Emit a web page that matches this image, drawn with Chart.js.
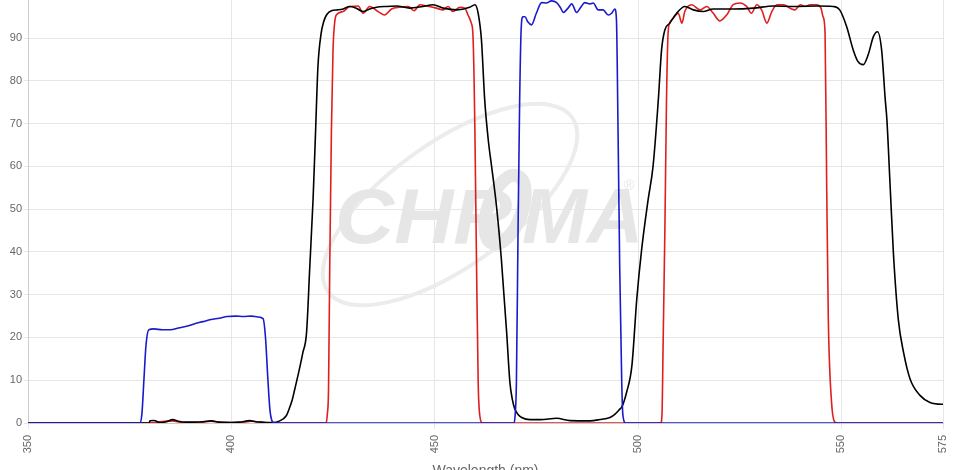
<!DOCTYPE html>
<html>
<head>
<meta charset="utf-8">
<script src="https://cdn.jsdelivr.net/npm/chart.js@4/dist/chart.umd.min.js"></script>
<style>
  html, body { margin: 0; padding: 0; background: #fff; overflow: hidden; }
  #wrap { position: absolute; left: 0; top: 0; width: 957px; height: 489px; }
</style>
</head>
<body>
<div id="wrap"><canvas id="myChart" width="957" height="489"></canvas></div>
<script>
// tick labels
var xTicks = [350, 400, 450, 500, 550, 575];
var yTicks = [0, 10, 20, 30, 40, 50, 60, 70, 80, 90];

// blue filter (two bands)
var blueWl = [350, 377.5, 378, 378.5, 379, 379.7, 381, 383, 385, 387, 389, 391, 393, 395, 397, 399, 401, 403, 405, 406.5, 407.8, 408.4, 409, 409.5, 410, 410.6,
  469.5, 469.8, 470.1, 470.5, 470.9, 471.3, 471.7, 472.2, 472.9, 473.8, 475, 476.3, 477.5, 478.7, 480, 481, 481.6, 482.8, 483.7, 484.9, 486, 486.9, 488.2, 489,
  490.2, 491.4, 492.7, 493.5, 494.3, 494.7, 495.1, 495.5, 496, 496.3, 497, 575];
var blueT = [0, 0, 2, 10, 18, 21.8, 22, 21.8, 21.8, 22.2, 22.6, 23.2, 23.7, 24.2, 24.5, 24.9, 25, 24.9, 25, 24.8, 24.4, 20, 10, 3, 0.5, 0,
  0, 2, 9.5, 44.5, 75.6, 92.7, 95, 95, 93.8, 93.1, 95.8, 98.3, 98.2, 98.7, 98.3, 97, 96, 97, 98, 96, 97.3, 98.3, 98, 98.2,
  96.6, 96.6, 95.4, 95.8, 96.8, 94.3, 67.8, 36.7, 9.5, 1.7, 0, 0];

// red filter (two bands)
var redWl = [350, 380, 382, 385.5, 388, 392, 395, 398, 402, 405, 408, 410,
  423.3, 423.6, 423.9, 424.2, 424.6, 425, 425.3, 425.8, 427.5, 429.1, 431.2, 432.4, 434, 436.1, 437.7, 439.4, 441.4, 443.5, 444.9, 446.4, 448, 450.4,
  452.1, 453.3, 454.5, 456.2, 457.4, 458.2, 459, 459.4, 459.7, 459.9, 460.3, 460.7, 461.1, 461.8,
  505.6, 505.9, 506.2, 506.6, 507, 507.4, 507.8, 508.7, 509.9, 510.8, 511.5, 513.2, 515.3, 516.9, 518.5, 520.1, 521.8, 523.4, 525.1, 526.7, 527.9,
  529.2, 530.4, 531.7, 532.9, 534.2, 535.8, 537.4, 538.6, 539.9, 541.1, 542.3, 543.9, 545, 545.5, 546, 546.4, 546.8, 547.6, 548.4, 549, 575];
var redT = [0, 0, 0.2, 0.5, 0.1, 0.1, 0.4, 0.1, 0.1, 0.4, 0.1, 0,
  0, 2, 8, 36.7, 67.8, 87, 92.5, 95.4, 96.2, 97.4, 97.5, 95.8, 97.4, 96.2, 95.4, 96.8, 97.2, 97.4, 96.4, 97.8, 97.5, 97,
  96.6, 97.4, 96.2, 97.2, 97, 95.4, 93.5, 91, 80, 67.8, 36.7, 9.5, 1.7, 0,
  0, 2, 20, 44.5, 75, 91.2, 93.5, 94.7, 95.8, 93.5, 96.2, 97.8, 96.6, 97.4, 95.8, 94, 95.4, 97.8, 98.2, 97.4, 95.8,
  97.8, 96.6, 93.5, 96.2, 97.8, 97.8, 97, 96.6, 97.8, 97.4, 97.8, 97.8, 97, 95, 91.2, 55.4, 24.3, 4.8, 0.2, 0, 0];

// black filter
var blackWl = [350, 379.8, 380, 381, 382.4, 384, 385.6, 387, 389, 391, 393, 395, 397, 400, 402, 404.5, 406, 407.5, 409, 410.1, 411.9, 413.5, 414.3, 415, 415.6,
  416.6, 417.6, 418.5, 419.3, 420.1, 420.7, 421.3, 422.1, 422.7, 423.4, 424.6, 426.2, 427.5, 429.1, 430.7, 432.4, 434, 435.7, 438.1, 440.6, 443.9, 447.1,
  449.6, 452.1, 455.4, 458.6, 459.9, 460.7, 461.5, 462.3, 463.2, 464, 465.2, 466.4, 467.7, 468.5, 469.1, 469.7, 470.5, 471.4, 473.4, 476, 480, 483.3,
  488.2, 490.6, 493.1, 493.9, 495.6, 496, 497.2, 498.5, 499.7, 500.9, 502.5, 503.7, 505, 505.8, 506.6, 507.8, 509.5, 511.5, 513.6, 516, 518.5, 523.4,
  528.4, 533.3, 538.2, 544, 548, 549.6, 551.3, 552.9, 554.1, 555.4, 556.6, 557.9, 558.9, 559.9, 560.8, 561.2, 562, 562.8, 564, 565.3, 566.9, 569.4,
  571.8, 574.7, 575];
var blackT = [0, 0, 0.5, 0.6, 0.1, 0.3, 0.8, 0.4, 0.2, 0.2, 0.3, 0.5, 0.2, 0.1, 0.2, 0.55, 0.3, 0.2, 0.1, 0.1, 0.5, 1.7, 3.5, 5.5, 7.9,
  12, 16.5, 21.2, 36.7, 52.3, 67.8, 83.4, 91.2, 93.8, 95.4, 96.4, 96.6, 96.8, 97.4, 97, 96.2, 96.8, 97.2, 97.4, 97.5, 97, 97.4,
  97.8, 97, 96.6, 97.2, 97.8, 95.8, 89.6, 75.6, 66, 60, 50.7, 38.3, 21.2, 9.5, 5.5, 3.3, 2, 1.3, 0.8, 0.8, 1.1, 0.55,
  0.5, 0.8, 1.3, 1.7, 3.3, 3.7, 7.2, 13.4, 29, 40.6, 52.3, 60, 75.6, 87.3, 91.9, 93.5, 95.8, 97.4, 96.6, 96.2, 96.8, 96.8,
  97, 97.5, 97.4, 97.5, 97.4, 96.6, 92.7, 87.3, 84.5, 83.8, 86.1, 90.4, 91.5, 87.3, 75.6, 71, 55.4, 39.8, 24.3, 16.5, 10.3, 6.4,
  4.8, 4.4, 4.4];

function pts(xs, ys) {
  return xs.map(function (x, i) { return { x: x, y: ys[i] }; });
}

// faint logo behind the curves
var watermark = {
  id: 'watermark',
  beforeDatasetsDraw: function (chart) {
    var c = chart.ctx;
    var top = chart.chartArea.top;
    c.save();
    c.translate(0, top);
    c.strokeStyle = '#ececec';
    c.lineWidth = 4;
    c.beginPath();
    c.ellipse(450, 205, 150, 62, -0.62, 0, Math.PI * 2);
    c.stroke();
    c.fillStyle = '#e6e6e6';
    c.font = 'italic bold 78px "Liberation Sans"';
    c.textBaseline = 'alphabetic';
    c.save();
    c.translate(335, 243);
    c.scale(1.05, 1);
    c.fillText('CHR', 0, 0);
    c.restore();
    c.fillText('MA', 522, 243);
    c.lineWidth = 13;
    c.strokeStyle = '#e6e6e6';
    c.beginPath();
    c.ellipse(505, 210, 17, 36, 0.35, 0, Math.PI * 2);
    c.stroke();
    c.font = '14px "Liberation Sans"';
    c.fillText('®', 624, 190);
    c.restore();
  }
};

var ctx = document.getElementById('myChart').getContext('2d');
var chart = new Chart(ctx, {
  type: 'line',
  data: {
    datasets: [{
      label: 'Blue',
      data: pts(blueWl, blueT),
      borderColor: '#1a1acc',
      borderWidth: 1.6
    }, {
      label: 'Black',
      data: pts(blackWl, blackT),
      borderColor: '#000000',
      borderWidth: 1.6
    }, {
      label: 'Red',
      data: pts(redWl, redT),
      borderColor: '#e01e1e',
      borderWidth: 1.6
    }]
  },
  options: {
    responsive: false,
    animation: false,
    cubicInterpolationMode: 'monotone',
    elements: { point: { radius: 0 } },
    layout: { padding: { left: 0, right: 14, top: 0, bottom: 0 } },
    plugins: { legend: { display: false }, tooltip: { enabled: false } },
    scales: {
      x: {
        type: 'linear',
        min: 350,
        max: 575,
        afterBuildTicks: function (axis) { axis.ticks = xTicks.map(function (v) { return { value: v }; }); },
        afterFit: function (scale) { scale.height = 57; scale.paddingRight = 0; scale.paddingLeft = 0; },
        ticks: { color: '#666', font: { family: 'Liberation Sans', size: 11 }, minRotation: 90, maxRotation: 90, padding: 6, autoSkip: false },
        grid: { color: '#e6e6e6', tickLength: 6 },
        border: { color: '#ccc' },
        title: { display: true, text: 'Wavelength (nm)', color: '#666', font: { family: 'Liberation Sans', size: 14 }, padding: 0 }
      },
      y: {
        min: 0,
        max: 99,
        afterBuildTicks: function (axis) { axis.ticks = yTicks.map(function (v) { return { value: v }; }); },
        afterFit: function (scale) { scale.width = 28; },
        ticks: { color: '#666', font: { family: 'Liberation Sans', size: 11 }, padding: 2 },
        grid: { color: '#e6e6e6', tickLength: 4 },
        border: { color: '#ccc' }
      }
    }
  },
  plugins: [watermark]
});

// put the top of the plot area at the top of the window
document.getElementById('wrap').style.top = (-chart.chartArea.top) + 'px';
</script>
</body>
</html>
